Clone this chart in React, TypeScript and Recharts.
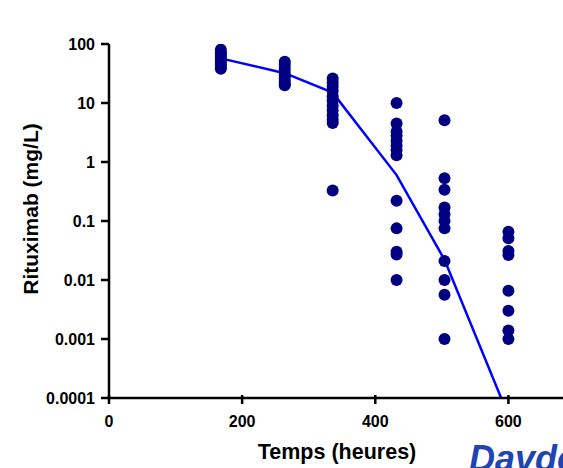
import React from 'react';
import { ComposedChart, Scatter, Line, XAxis, YAxis } from 'recharts';

// Sampling times (hours)
const times = [168, 264, 336, 432, 504, 600];

// Observed rituximab concentrations (mg/L) per sampling time
const conc168 = [80, 72, 66, 60, 55, 50, 45, 41, 38];
const conc264 = [50, 44, 38, 33, 29, 26, 23, 21, 20];
const conc336 = [26, 22, 19, 16, 13, 11, 9, 7.5, 6.2, 5.2, 4.6, 0.33];
const conc432 = [10, 4.5, 3.3, 2.8, 2.3, 1.9, 1.6, 1.3, 0.22, 0.075, 0.03, 0.027, 0.01];
const conc504 = [5.1, 0.53, 0.34, 0.17, 0.13, 0.1, 0.075, 0.021, 0.01, 0.0056, 0.001];
const conc600 = [0.066, 0.051, 0.031, 0.0265, 0.0066, 0.003, 0.0014, 0.001];

// Model prediction line
const modelTimes = [168, 264, 336, 432, 504, 600];
const modelConc = [57, 32, 15, 0.6, 0.022, 0.00005];

const xTicks = [0, 200, 400, 600];
const yTicks = [0.0001, 0.001, 0.01, 0.1, 1, 10, 100];

const xTitle = 'Temps (heures)';
const yTitle = 'Rituximab (mg/L)';
const brand = 'Davdo';

const allConc = [conc168, conc264, conc336, conc432, conc504, conc600];
const points = times.flatMap((t, i) => allConc[i].map((c) => ({ x: t, y: c })));
const lineData = modelTimes.map((t, i) => ({ x: t, y: modelConc[i] }));

const FONT = 'Arial, "Liberation Sans", sans-serif';

const Dot = (props: any) => {
  const { cx, cy } = props;
  if (cx == null || cy == null) return null;
  return <circle cx={cx} cy={cy} r={6} fill="#000080" />;
};

const XTick = (props: any) => {
  const { x, y, payload } = props;
  return (
    <g>
      <line x1={x} x2={x} y1={y - 3} y2={y + 6} stroke="#000" strokeWidth={2.5} />
      <text x={x} y={y + 29} textAnchor="middle" fontFamily={FONT} fontWeight="bold" fontSize={16} fill="#000">
        {String(payload.value)}
      </text>
    </g>
  );
};

const YTick = (props: any) => {
  const { x, y, payload } = props;
  return (
    <g>
      <line x1={x - 8} x2={x} y1={y} y2={y} stroke="#000" strokeWidth={2.5} />
      <text x={x - 14} y={y} dy="0.35em" textAnchor="end" fontFamily={FONT} fontWeight="bold" fontSize={16} fill="#000">
        {String(payload.value)}
      </text>
    </g>
  );
};

export default function App() {
  return (
    <div
      style={{
        position: 'fixed',
        left: 0,
        top: 0,
        width: 563,
        height: 468,
        overflow: 'hidden',
        background: '#fff',
      }}
    >
      <ComposedChart width={575} height={468} margin={{ top: 44, right: 0, bottom: 0, left: 0 }}>
        <XAxis
          type="number"
          dataKey="x"
          domain={[0, 700]}
          ticks={xTicks}
          allowDataOverflow
          height={70}
          tickSize={0}
          tickMargin={0}
          tickLine={false}
          axisLine={{ stroke: '#000', strokeWidth: 2.5 }}
          tick={<XTick />}
        />
        <YAxis
          type="number"
          dataKey="y"
          scale="log"
          domain={[0.0001, 100]}
          ticks={yTicks}
          allowDataOverflow
          width={109}
          tickSize={0}
          tickMargin={0}
          tickLine={false}
          axisLine={{ stroke: '#000', strokeWidth: 2.5 }}
          tick={<YTick />}
        />
        <Scatter data={points} dataKey="y" shape={<Dot />} isAnimationActive={false} />
        <Line
          data={lineData}
          dataKey="y"
          type="linear"
          stroke="#0000FF"
          strokeWidth={2.5}
          dot={false}
          activeDot={false}
          isAnimationActive={false}
        />
      </ComposedChart>
      <svg
        width={563}
        height={468}
        style={{ position: 'absolute', left: 0, top: 0, pointerEvents: 'none' }}
      >
        <text x={337} y={459} textAnchor="middle" fontFamily={FONT} fontWeight="bold" fontSize={21.5} fill="#000">
          {xTitle}
        </text>
        <text
          x={38}
          y={209}
          textAnchor="middle"
          transform="rotate(-90, 38, 209)"
          fontFamily={FONT}
          fontWeight="bold"
          fontSize={21}
          fill="#000"
        >
          {yTitle}
        </text>
        <text x={469} y={471} fontFamily={FONT} fontWeight="bold" fontStyle="italic" fontSize={36} fill="#1f44b4">
          {brand}
        </text>
      </svg>
    </div>
  );
}
